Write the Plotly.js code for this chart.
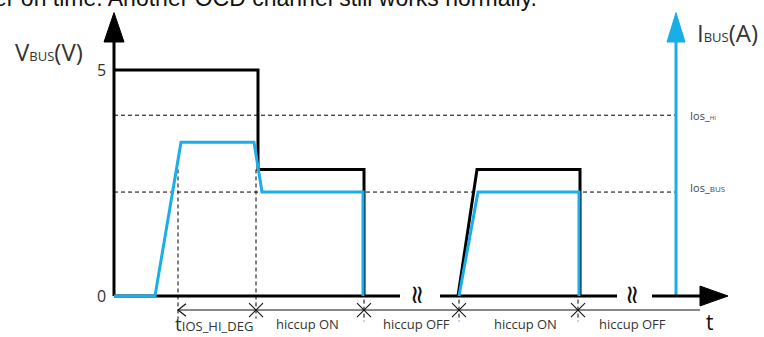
<!DOCTYPE html>
<html><head><meta charset="utf-8">
<script src="https://cdn.plot.ly/plotly-3.0.1.min.js"></script>
<style>html,body{margin:0;padding:0;background:#fff}</style>
</head><body><div id="chart" style="width:764px;height:337px"></div>
<script>
// ---- data (time in arbitrary units, voltage in V, current in arbitrary A units) ----
const vbusT = [0, 144, 144, 250, 250, null, 344, 363, 466, 466];
const vbusV = [5, 5, 2.8, 2.8, 0, null, 0, 2.8, 2.8, 0];
const ibusT = [0, 41, 67, 140, 148, 249, 249, null, 345, 364, 465, 465];
const ibusA = [0, 0, 3.4, 3.4, 2.3, 2.3, 0, null, 0, 2.3, 2.3, 0];
const iosHi = 4.0;
const iosBus = 2.3;
const thresholdEnd = 562;          // where the I axis stands
const timeAxisSegments = [[0, 286], [326, 503], [538, 586]];
const breakTimes = [304, 519];
const eventTimes = [142, 250, 345, 464];   // phase boundaries
const degStart = 64;                        // start of tIOS_HI_DEG
const phaseLabels = ['<span style="font-size:19px">t</span>IOS_HI_DEG', 'hiccup ON', 'hiccup OFF', 'hiccup ON', 'hiccup OFF'];
const phaseCenters = [100, 193, 302, 411, 518];
const yTicks = [0, 5];

const BLUE = '#1aaee9';
const traces = [];
const line = (x, y, color, width, dash, axis) => ({
  x, y, mode: 'lines', yaxis: axis || 'y', hoverinfo: 'skip', showlegend: false,
  line: {color, width, dash: dash || 'solid'}
});
// threshold dashed lines
traces.push(line([0, thresholdEnd], [iosHi, iosHi], '#000', 1, '4px,3px'));
traces.push(line([0, thresholdEnd], [iosBus, iosBus], '#000', 1, '4px,3px'));
// vertical dashed guides
const tlY = -0.31;
traces.push(line([degStart, degStart], [2.8, -0.5], '#000', 1, '4px,3px'));
traces.push(line([eventTimes[0], eventTimes[0]], [2.8, -0.5], '#000', 1, '4px,3px'));
eventTimes.slice(1).forEach(t => traces.push(line([t, t], [-0.08, -0.56], '#000', 1, '4px,3px')));
// timeline (thin)
traces.push(line([degStart, 586], [tlY, tlY], '#111', 1.2));
// chevron at start
traces.push(line([degStart + 8, degStart, degStart + 8], [tlY + 0.14, tlY, tlY - 0.14], '#111', 1.2));
// X markers at boundaries
traces.push({x: eventTimes, y: eventTimes.map(() => tlY), mode: 'markers', hoverinfo: 'skip', showlegend: false,
  marker: {symbol: 'x-thin-open', size: 14, color: '#111', line: {color: '#111', width: 1.1}}});
// I axis (blue)
traces.push(line([thresholdEnd, thresholdEnd], [0, 5.62], BLUE, 3));
traces.push({x: [thresholdEnd - 9, thresholdEnd, thresholdEnd + 9, thresholdEnd - 9], y: [5.62, 6.27, 5.62, 5.62],
  mode: 'lines', fill: 'toself', fillcolor: BLUE, line: {color: BLUE, width: 1}, hoverinfo: 'skip', showlegend: false});
// current
traces.push(line(ibusT, ibusA, BLUE, 3, 'solid', 'y2'));
// voltage
traces.push(line(vbusT, vbusV, '#000', 3));
// V axis
traces.push(line([0, 0], [0, 5.62], '#000', 3));
traces.push({x: [-10, 0, 10, -10], y: [5.62, 6.27, 5.62, 5.62], mode: 'lines', fill: 'toself', fillcolor: '#000',
  line: {color: '#000', width: 1}, hoverinfo: 'skip', showlegend: false});
// time axis
timeAxisSegments.forEach(s => traces.push(line(s, [0, 0], '#000', 3)));
traces.push({x: [586, 614, 586, 586], y: [0.22, 0, -0.22, 0.22], mode: 'lines', fill: 'toself', fillcolor: '#000',
  line: {color: '#000', width: 1}, hoverinfo: 'skip', showlegend: false});

const FONT = 'Open Sans, Noto Sans, sans-serif';
const ann = [];
yTicks.forEach(v => ann.push({x: -6, y: v, text: String(v), xanchor: 'right', yanchor: 'middle', showarrow: false,
  font: {family: FONT, size: 16, color: '#333'}}));
phaseLabels.forEach((txt, i) => ann.push({x: phaseCenters[i], y: -0.62, text: txt, xanchor: 'center', yanchor: 'middle',
  showarrow: false, font: {family: FONT, size: 13, color: '#333'}}));
breakTimes.forEach(t => ann.push({x: t, y: 0.02, text: '≈', textangle: 90, xanchor: 'center', yanchor: 'middle', showarrow: false,
  font: {family: 'DejaVu Sans', size: 26, color: '#111'}}));
ann.push({x: 596, y: -0.907, text: 't', xanchor: 'center', yanchor: 'bottom', showarrow: false, borderpad: 0,
  font: {family: FONT, size: 21, color: '#111'}});
ann.push({x: -101, y: 5.4, text: 'V<span style="font-size:13px">BUS</span>(V)', xanchor: 'left', yanchor: 'middle',
  showarrow: false, font: {family: FONT, size: 24, color: '#333'}});
ann.push({x: 581, y: 5.82, text: 'I<span style="font-size:13px">BUS</span>(A)', xanchor: 'left', yanchor: 'middle',
  showarrow: false, font: {family: FONT, size: 24, color: '#333'}});
ann.push({x: 574, y: iosHi, text: 'Ios_<span style="font-size:6px">HI</span>', xanchor: 'left', yanchor: 'middle',
  showarrow: false, font: {family: FONT, size: 11, color: '#444'}});
ann.push({x: 574, y: iosBus + 0.11, text: 'Ios_<span style="font-size:8px">BUS</span>', xanchor: 'left', yanchor: 'middle',
  showarrow: false, font: {family: FONT, size: 11, color: '#444'}});
ann.push({xref: 'paper', yref: 'paper', x: -0.01, y: 0.962, text: 'er on time. Another OCD channel still works normally.',
  xanchor: 'left', yanchor: 'bottom', showarrow: false, font: {family: 'Liberation Sans, Arial, sans-serif', size: 23, color: '#111'}});

const yr = [-0.907, 6.549];
const layout = {
  width: 764, height: 337, margin: {l: 0, r: 0, t: 0, b: 0},
  paper_bgcolor: '#fff', plot_bgcolor: '#fff', showlegend: false,
  xaxis: {range: [-114, 650], visible: false, fixedrange: true},
  yaxis: {range: yr, visible: false, fixedrange: true},
  yaxis2: {range: yr, visible: false, overlaying: 'y', side: 'right', fixedrange: true},
  annotations: ann
};
Plotly.newPlot('chart', traces, layout, {staticPlot: true, displayModeBar: false});
</script></body></html>
